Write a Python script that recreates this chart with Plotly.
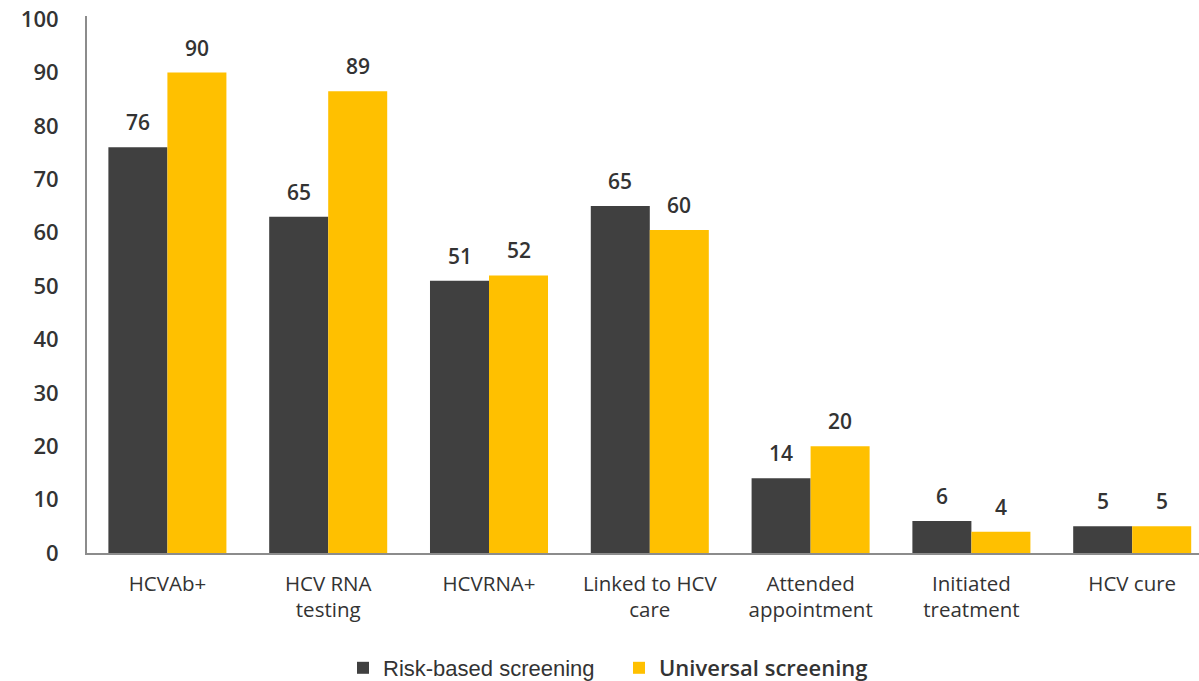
import plotly.graph_objects as go

categories = ["HCVAb+", "HCV RNA<br>testing", "HCVRNA+", "Linked to HCV<br>care",
              "Attended<br>appointment", "Initiated<br>treatment", "HCV cure"]
risk_heights = [76, 63, 51, 65, 14, 6, 5]
universal_heights = [90, 86.5, 52, 60.5, 20, 4, 5]
risk_labels = ["76", "65", "51", "65", "14", "6", "5"]
universal_labels = ["90", "89", "52", "60", "20", "4", "5"]
y_ticks = [0, 10, 20, 30, 40, 50, 60, 70, 80, 90, 100]

DARK = "#404040"
YELLOW = "#FFC000"
FONT = "Open Sans"

fig = go.Figure()
fig.add_trace(go.Bar(x=list(range(len(categories))), y=risk_heights, name="Risk-based screening",
                     marker=dict(color=DARK, line=dict(width=0))))
fig.add_trace(go.Bar(x=list(range(len(categories))), y=universal_heights,
                     name="<span style='font-family:Open Sans;font-weight:600'>Universal screening</span>",
                     marker=dict(color=YELLOW, line=dict(width=0))))

# value labels
for i in range(len(categories)):
    fig.add_annotation(x=i, y=risk_heights[i], xref="x", yref="y", text=risk_labels[i],
                       showarrow=False, xshift=-29.5, yshift=9, yanchor="bottom",
                       font=dict(family=FONT, size=21, color="#333333", weight=600))
    fig.add_annotation(x=i, y=universal_heights[i], xref="x", yref="y", text=universal_labels[i],
                       showarrow=False, xshift=29.5, yshift=9, yanchor="bottom",
                       font=dict(family=FONT, size=21, color="#333333", weight=600))

fig.update_layout(
    width=1199, height=681,
    margin=dict(l=87, r=0, t=16, b=128),
    plot_bgcolor="white", paper_bgcolor="white",
    barmode="group", bargap=0.266, bargroupgap=0,
    showlegend=True,
    legend=dict(orientation="h", xref="container", yref="container",
                x=343 / 1199, y=1 - 668 / 681, xanchor="left", yanchor="middle",
                font=dict(family="Liberation Sans", size=22, color="#333333"),
                itemwidth=30, traceorder="normal", entrywidth=231),
    xaxis=dict(
        tickmode="array", tickvals=list(range(len(categories))), ticktext=categories,
        range=[-0.5, -0.5 + 1112 / 160.8],
        showline=True, linecolor="#8c8c8c", linewidth=2,
        showgrid=False, ticks="", zeroline=False,
        tickfont=dict(family=FONT, size=20.5, color="#333333"),
        ticklabelstandoff=11,
    ),
    yaxis=dict(
        range=[0, 100.6], tickmode="array", tickvals=y_ticks,
        showline=True, linecolor="#8c8c8c", linewidth=2,
        showgrid=False, ticks="", zeroline=False,
        tickfont=dict(family=FONT, size=22, color="#333333", weight=600),
        ticklabelstandoff=22,
    ),
)

fig.write_html("out.html")
